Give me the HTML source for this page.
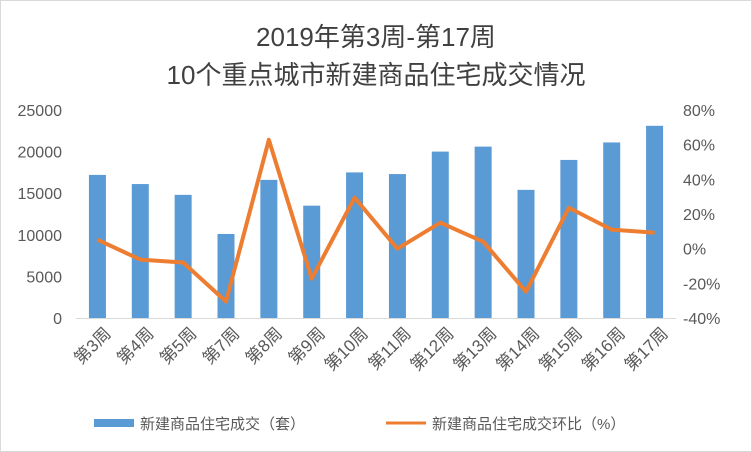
<!DOCTYPE html>
<html><head><meta charset="utf-8"><style>
body{margin:0;background:#fff}
svg{display:block;font-family:"Liberation Sans","Noto Sans CJK SC",sans-serif}
</style></head><body>
<svg width="752" height="452">
<rect x="0.5" y="0.5" width="751" height="451" fill="#fff" stroke="#d9d9d9"/>
<text x="376" y="46" text-anchor="middle" font-size="26" fill="#404040">2019年第3周-第17周</text>
<text x="376" y="84" text-anchor="middle" font-size="26" fill="#404040">10个重点城市新建商品住宅成交情况</text>
<g id="plot"></g>
<g>
<rect x="94" y="419" width="40" height="8" fill="#5b9bd5"/>
<text x="140" y="429" font-size="15" fill="#595959">新建商品住宅成交（套）</text>
<line x1="386" y1="423" x2="426" y2="423" stroke="#ed7d31" stroke-width="3"/>
<text x="432" y="429" font-size="15" fill="#595959">新建商品住宅成交环比（%）</text>
</g>
</svg>
<script>
const categories=["第3周","第4周","第5周","第7周","第8周","第9周","第10周","第11周","第12周","第13周","第14周","第15周","第16周","第17周"];
const salesValues=[17200,16100,14800,10100,16600,13500,17500,17300,20000,20600,15400,19000,21100,23100];
const growthValues=[5.2,-6.3,-8,-30.5,62.8,-17.3,29.4,0,15,4,-24.8,23.6,11,9.2];
const leftTicks=[0,5000,10000,15000,20000,25000];
const rightTicks=[-40,-20,0,20,40,60,80];
const NS="http://www.w3.org/2000/svg";
const g=document.getElementById("plot");
const X0=76,X1=676,Y0=318,Y1=110;
const band=(X1-X0)/categories.length;
const xc=i=>X0+band*(i+0.5);
const yL=v=>Y0-(v/25000)*(Y0-Y1);
const yR=v=>Y0-((v+40)/120)*(Y0-Y1);
function mk(t,a){const e=document.createElementNS(NS,t);for(const k in a)e.setAttribute(k,a[k]);g.appendChild(e);return e;}
leftTicks.forEach(v=>{const t=mk("text",{x:62,y:yL(v)+6,"text-anchor":"end","font-size":"16",fill:"#595959"});t.textContent=v;

});
rightTicks.forEach(v=>{const t=mk("text",{x:683,y:yR(v)+6,"font-size":"16",fill:"#595959"});t.textContent=v+"%";

});
const ax=mk("line",{x1:X0,y1:Y0+0.5,x2:X1,y2:Y0+0.5,stroke:"#d9d9d9"});


salesValues.forEach((v,i)=>{const r=mk("rect",{x:xc(i)-8.5,y:yL(v),width:17,height:Y0-yL(v),fill:"#5b9bd5"});

});
const pl=mk("polyline",{points:growthValues.map((v,i)=>xc(i)+","+yR(v)).join(" "),fill:"none",stroke:"#ed7d31","stroke-width":"4","stroke-linejoin":"round"});


categories.forEach((c,i)=>{const t=mk("text",{x:xc(i)+6,y:326,"text-anchor":"end","font-size":"17",fill:"#595959",transform:`rotate(-45 ${xc(i)+6} 326)`,"dominant-baseline":"hanging"});t.textContent=c;

});
</script>
</body></html>
